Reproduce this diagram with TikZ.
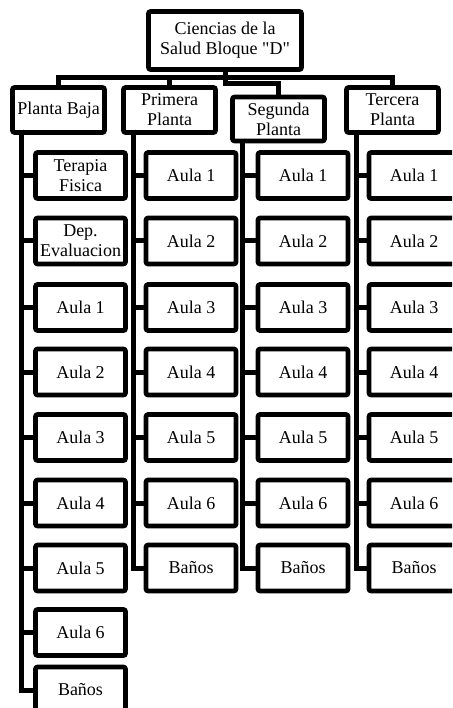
\documentclass[tikz,border=0pt]{standalone}
\usepackage{fontspec}
\setmainfont{Liberation Serif}
\begin{document}
\begin{tikzpicture}[x=1pt,y=-1pt,
  box/.style={draw=black, line width=4.6pt, rounded corners=2pt, fill=white,
    inner sep=0pt, align=center, font=\fontsize{18}{20}\selectfont},
  headbox/.style={box, minimum width=92pt, minimum height=45pt},
  roombox/.style={box, minimum width=90pt, minimum height=46pt},
  conn/.style={line width=5pt, line join=miter}]
\useasboundingbox (0,0) rectangle (452,708);
\clip (0,0) rectangle (452,708);
\fill[white] (0,0) rectangle (452,708);

% top
\node[box, minimum width=153pt, minimum height=58pt] (top) at (225,40.5) {Ciencias de la\\Salud Bloque \textquotedbl D\textquotedbl};
% floors
\node[headbox] (pb) at (58.5,110) {Planta Baja};
\node[headbox] (prim) at (169.5,110) {Primera\\Planta};
\node[headbox, minimum height=44pt] (seg) at (278.5,119) {Segunda\\Planta};
\node[headbox] (terc) at (392.5,110) {Tercera\\Planta};

% planta baja rooms
\node[roombox] (pb1) at (80.5,175.5) {Terapia\\Fisica};
\node[roombox] (pb2) at (80.5,241) {Dep.\\Evaluacion};
\node[roombox] (pb3) at (80.5,307.5) {Aula 1};
\node[roombox] (pb4) at (80.5,372) {Aula 2};
\node[roombox] (pb5) at (80.5,437.5) {Aula 3};
\node[roombox] (pb6) at (80.5,503) {Aula 4};
\node[roombox] (pb7) at (80.5,568) {Aula 5};
\node[roombox] (pb8) at (80.5,632.5) {Aula 6};
\node[roombox] (pb9) at (80.5,690) {Baños};

% primera, segunda, tercera rooms
\foreach \c/\x in {pr/191, sg/303, tc/414}{
  \node[roombox] (\c1) at (\x,175.5) {Aula 1};
  \node[roombox] (\c2) at (\x,241) {Aula 2};
  \node[roombox] (\c3) at (\x,307.5) {Aula 3};
  \node[roombox] (\c4) at (\x,372) {Aula 4};
  \node[roombox] (\c5) at (\x,437.5) {Aula 5};
  \node[roombox] (\c6) at (\x,503) {Aula 6};
  \node[roombox] (\c7) at (\x,568) {Baños};
}

% top connectors
\coordinate (bar) at (225,77.5);
\coordinate (segturn) at (225,84);
\draw[conn] (top.south) -- (bar);
\draw[conn] (bar) -| (pb.north);
\draw[conn] (bar) -| (prim.north);
\draw[conn] (bar) -| (terc.north);
\draw[conn] (bar) -- (segturn) -| (seg.north);

% column spines
\coordinate (pbv) at (21.5,130);
\coordinate (prv) at (133,130);
\coordinate (sgv) at (242.5,139);
\coordinate (tcv) at (356,130);
\foreach \i in {1,...,9}{
  \draw[conn] (pbv) |- (pb\i.west);
}
\foreach \c in {pr,sg,tc}{
  \foreach \i in {1,...,7}{
    \draw[conn] (\c v) |- (\c\i.west);
  }
}
\end{tikzpicture}
\end{document}
